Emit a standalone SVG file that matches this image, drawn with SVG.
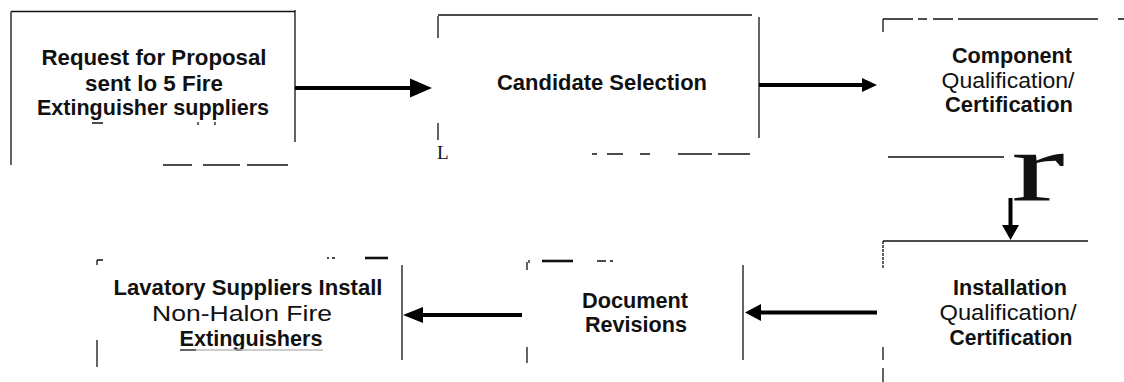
<svg xmlns="http://www.w3.org/2000/svg" width="1124" height="382" viewBox="0 0 1124 382">
<style>
.edge{stroke:#111;stroke-width:1.3;fill:none;stroke-linecap:butt}
.thick{stroke:#111;stroke-width:2.6;fill:none}
.ghost{stroke:#bbb;stroke-width:1.5;fill:none}
.shaft{stroke:#000;stroke-width:4;fill:none}
.head{fill:#000;stroke:none}
.t{font-family:"Liberation Sans",Arial,Helvetica,sans-serif;font-size:21.5px;fill:#111;text-anchor:middle}
.bd{font-weight:bold}
.stray{font-family:"Liberation Serif","Times New Roman",serif;fill:#111}
</style>
<rect width="1124" height="382" fill="#fff"/>

<g id="node-rfp">
  <path class="edge" d="M11 11.5H295M11 11.5V165M295 10V142M163 165H192M203 165H240M247 165H288"/>
  <path class="edge" d="M92 123H103M198 122V125M215 122V125"/>
  <text class="t bd" x="154" y="65" textLength="225" lengthAdjust="spacingAndGlyphs">Request for Proposal</text>
  <text class="t bd" x="154" y="90.5" textLength="138" lengthAdjust="spacingAndGlyphs">sent lo 5 Fire</text>
  <text class="t bd" x="153" y="115" textLength="232" lengthAdjust="spacingAndGlyphs">Extinguisher suppliers</text>
</g>

<g id="node-candidate">
  <path class="edge" d="M438 15H752M438 16V38M438 123V140M759 17V138M592 154H597M607 154H623M640 154H650M678 154H712M718 154H750"/>
  <text class="t bd" x="602" y="90" textLength="210" lengthAdjust="spacingAndGlyphs">Candidate Selection</text>
  <text class="stray" x="437" y="159" font-size="19">L</text>
</g>

<g id="node-component">
  <path class="edge" d="M883 19H913M918 19H927M933 19H953M883 19V32M888 157H1004M1118 19H1124"/>
  <path class="edge" stroke-width="1.8" d="M958 19H1098"/>
  <text class="t bd" x="1012" y="63" textLength="120" lengthAdjust="spacingAndGlyphs">Component</text>
  <text class="t" x="1008" y="88" textLength="133" lengthAdjust="spacingAndGlyphs">Qualification/</text>
  <text class="t bd" x="1009" y="112" textLength="128" lengthAdjust="spacingAndGlyphs">Certification</text>
  <text class="stray" transform="translate(1011 201) scale(1.62 1)" x="0" y="0" font-size="100">r</text>
</g>

<g id="node-installation">
  <path class="edge" d="M883 241H1088"/>
  <path class="edge" stroke-dasharray="3 1" d="M883 241V268"/>
  <path class="edge" d="M883 347V360M883 368V382"/>
  <text class="t bd" x="1010" y="295" textLength="114" lengthAdjust="spacingAndGlyphs">Installation</text>
  <text class="t" x="1008" y="320" textLength="137" lengthAdjust="spacingAndGlyphs">Qualification/</text>
  <text class="t bd" x="1011" y="345" textLength="123" lengthAdjust="spacingAndGlyphs">Certification</text>
</g>

<g id="node-document">
  <path class="edge" d="M527 262V270M527 347V363M743 265V360M529 260V263M597 261H606M610 261H613"/>
  <path class="thick" d="M542 261H573"/>
  <text class="t bd" x="635" y="308" textLength="106" lengthAdjust="spacingAndGlyphs">Document</text>
  <text class="t bd" x="636" y="332" textLength="102" lengthAdjust="spacingAndGlyphs">Revisions</text>
</g>

<g id="node-lavatory">
  <path class="edge" d="M97 260H103M97 260V265M97 340V367M402 265V360M327 258H329M332 258H335"/>
  <path class="thick" d="M365 258H388"/>
  <text class="t bd" x="248" y="295" textLength="269" lengthAdjust="spacingAndGlyphs">Lavatory Suppliers Install</text>
  <text class="t" x="242" y="321" textLength="180" lengthAdjust="spacingAndGlyphs">Non-Halon Fire</text>
  <text class="t bd" x="251" y="346" textLength="143" lengthAdjust="spacingAndGlyphs">Extinguishers</text>
  <path class="ghost" d="M196 350H323"/>
  <path class="edge" stroke-width="1.6" d="M180 350H196"/>
</g>

<g id="connectors">
  <path class="shaft" d="M295 88H412"/>
  <polygon class="head" points="410,78.5 432,88 410,97.5"/>
  <path class="shaft" stroke-width="3.5" d="M759 85H865"/>
  <polygon class="head" points="862,78 877,85 862,92"/>
  <path class="shaft" d="M1010.5 198V227"/>
  <polygon class="head" points="1002,225 1019,225 1010.5,240"/>
  <path class="shaft" d="M877 312.5H758"/>
  <polygon class="head" points="761,304 745,312.5 761,321"/>
  <path class="shaft" stroke-width="4.5" d="M522 315H420"/>
  <polygon class="head" points="423,307 403,315 423,323"/>
</g>
</svg>
